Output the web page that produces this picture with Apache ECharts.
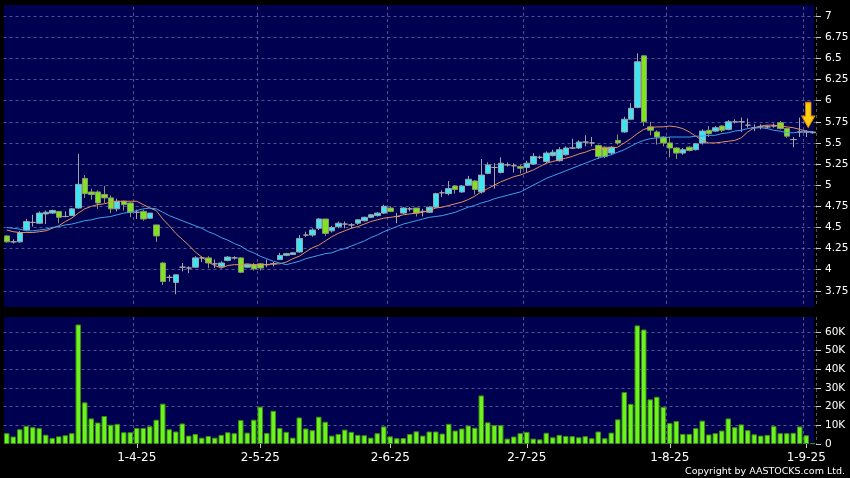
<!DOCTYPE html>
<html><head><meta charset="utf-8">
<script src="https://cdn.jsdelivr.net/npm/echarts@6/dist/echarts.min.js"></script>
<style>html,body{margin:0;padding:0;background:#000;}#c{width:850px;height:478px;}</style>
</head><body><div id="c"></div>
<script>
const dates = [
'4-3-25','5-3-25','6-3-25','7-3-25','10-3-25','11-3-25','12-3-25','13-3-25','14-3-25','17-3-25','18-3-25','19-3-25','20-3-25','21-3-25','24-3-25','25-3-25','26-3-25','27-3-25','28-3-25','31-3-25',
'1-4-25','2-4-25','3-4-25','7-4-25','8-4-25','9-4-25','10-4-25','11-4-25','14-4-25','15-4-25','16-4-25','17-4-25','22-4-25','23-4-25','24-4-25','25-4-25','28-4-25','29-4-25','30-4-25',
'2-5-25','6-5-25','7-5-25','8-5-25','9-5-25','12-5-25','13-5-25','14-5-25','15-5-25','16-5-25','19-5-25','20-5-25','21-5-25','22-5-25','23-5-25','26-5-25','27-5-25','28-5-25','29-5-25','30-5-25',
'2-6-25','3-6-25','4-6-25','5-6-25','6-6-25','9-6-25','10-6-25','11-6-25','12-6-25','13-6-25','16-6-25','17-6-25','18-6-25','19-6-25','20-6-25','23-6-25','24-6-25','25-6-25','26-6-25','27-6-25','30-6-25',
'2-7-25','3-7-25','4-7-25','7-7-25','8-7-25','9-7-25','10-7-25','11-7-25','14-7-25','15-7-25','16-7-25','17-7-25','18-7-25','21-7-25','22-7-25','23-7-25','24-7-25','25-7-25','28-7-25','29-7-25','30-7-25','31-7-25',
'1-8-25','4-8-25','5-8-25','6-8-25','7-8-25','8-8-25','11-8-25','12-8-25','13-8-25','14-8-25','15-8-25','18-8-25','19-8-25','20-8-25','21-8-25','22-8-25','25-8-25','26-8-25','27-8-25','28-8-25','29-8-25',
'1-9-25','2-9-25'];

const opens = [4.40,4.33,4.33,4.47,4.56,4.55,4.66,4.67,4.69,4.63,4.64,4.73,5.08,4.92,4.92,4.89,4.85,4.72,4.81,4.79,
4.68,4.69,4.61,4.53,4.08,3.91,3.85,4.03,4.02,4.03,4.14,4.14,4.07,4.04,4.11,4.14,4.14,4.03,4.06,4.07,
4.06,4.07,4.12,4.17,4.18,4.21,4.41,4.41,4.49,4.60,4.46,4.51,4.54,4.53,4.55,4.58,4.62,4.64,4.67,4.73,
4.63,4.67,4.72,4.73,4.69,4.68,4.74,4.91,4.90,4.99,4.92,5.00,5.05,4.92,5.14,5.21,5.15,5.24,5.23,5.22,
5.21,5.25,5.33,5.28,5.35,5.29,5.36,5.44,5.44,5.51,5.50,5.47,5.45,5.38,5.53,5.63,5.78,5.92,6.53,5.69,
5.63,5.57,5.50,5.44,5.38,5.45,5.42,5.50,5.65,5.64,5.70,5.66,5.75,5.75,5.71,5.68,5.69,5.69,5.70,5.74,
5.67,5.54,5.63,5.63,5.62];
const closes = [4.33,4.33,4.44,4.57,4.56,4.67,4.68,4.70,4.62,4.63,4.72,5.01,4.90,4.89,4.79,4.85,4.72,4.81,4.77,4.68,
4.68,4.60,4.67,4.40,3.86,3.91,3.94,4.03,4.02,4.14,4.14,4.08,4.07,4.08,4.15,4.14,3.97,4.06,4.01,4.02,
4.06,4.07,4.17,4.19,4.20,4.37,4.41,4.47,4.60,4.43,4.50,4.55,4.54,4.53,4.59,4.62,4.65,4.67,4.75,4.69,
4.63,4.73,4.72,4.67,4.69,4.74,4.90,4.91,4.96,4.95,4.99,5.07,4.95,5.12,5.24,5.21,5.26,5.24,5.23,5.20,
5.26,5.34,5.33,5.38,5.39,5.42,5.44,5.44,5.51,5.51,5.50,5.34,5.34,5.45,5.50,5.78,5.91,6.46,5.75,5.65,
5.57,5.50,5.44,5.38,5.42,5.41,5.49,5.64,5.61,5.68,5.65,5.75,5.75,5.75,5.71,5.68,5.69,5.69,5.70,5.67,
5.58,5.54,5.63,5.63,5.63];
const lows = [4.32,4.31,4.32,4.46,4.51,4.54,4.54,4.66,4.55,4.62,4.64,4.72,4.85,4.83,4.72,4.79,4.67,4.69,4.70,4.62,
4.60,4.58,4.60,4.33,3.82,3.86,3.71,3.98,3.96,4.02,4.09,4.02,4.02,4.02,4.10,4.12,3.96,4.02,3.99,3.99,
4.03,4.04,4.12,4.16,4.18,4.20,4.39,4.39,4.47,4.40,4.44,4.49,4.49,4.49,4.53,4.57,4.61,4.63,4.66,4.68,
4.55,4.66,4.69,4.63,4.63,4.67,4.73,4.86,4.88,4.90,4.91,5.00,4.89,4.90,5.13,4.96,5.14,5.22,5.15,5.14,
5.15,5.24,5.31,5.26,5.34,5.28,5.35,5.43,5.43,5.46,5.46,5.31,5.32,5.36,5.48,5.62,5.77,5.91,5.70,5.59,
5.48,5.46,5.33,5.31,5.36,5.40,5.41,5.48,5.57,5.63,5.63,5.65,5.73,5.63,5.68,5.64,5.66,5.67,5.68,5.66,
5.56,5.45,5.57,5.57,5.61];
const highs = [4.41,4.36,4.46,4.60,4.65,4.69,4.70,4.71,4.69,4.69,4.73,5.37,5.12,4.96,4.94,4.99,4.88,4.84,4.82,4.80,
4.71,4.71,4.67,4.53,4.09,3.94,3.94,4.08,4.04,4.16,4.16,4.16,4.12,4.10,4.16,4.16,4.15,4.07,4.08,4.08,
4.12,4.09,4.20,4.20,4.21,4.41,4.45,4.49,4.61,4.60,4.52,4.57,4.57,4.55,4.60,4.63,4.66,4.68,4.77,4.75,
4.67,4.74,4.74,4.73,4.72,4.75,4.91,4.94,5.05,5.00,5.00,5.11,5.06,5.31,5.27,5.26,5.33,5.27,5.26,5.24,
5.29,5.38,5.35,5.40,5.42,5.45,5.46,5.55,5.53,5.59,5.57,5.48,5.46,5.46,5.60,5.81,5.97,6.56,6.54,5.75,
5.65,5.58,5.57,5.45,5.44,5.46,5.50,5.66,5.70,5.70,5.71,5.77,5.78,5.80,5.79,5.72,5.72,5.71,5.73,5.76,
5.68,5.57,5.80,5.65,5.64];

const maShort = [4.47,4.45,4.44,4.44,4.44,4.45,4.46,4.49,4.52,4.57,4.61,4.67,4.72,4.75,4.77,4.78,4.80,4.81,4.81,4.81,
4.81,4.77,4.73,4.70,4.60,4.52,4.43,4.36,4.29,4.21,4.15,4.09,4.05,4.02,4.05,4.06,4.06,4.07,4.06,4.06,
4.06,4.07,4.07,4.09,4.13,4.16,4.21,4.26,4.29,4.34,4.39,4.43,4.46,4.49,4.51,4.54,4.57,4.59,4.61,4.62,
4.63,4.65,4.66,4.67,4.68,4.70,4.73,4.74,4.76,4.78,4.80,4.83,4.87,4.92,4.96,5.00,5.04,5.07,5.10,5.12,
5.15,5.18,5.22,5.26,5.28,5.30,5.32,5.34,5.37,5.39,5.42,5.43,5.43,5.44,5.45,5.50,5.55,5.61,5.66,5.68,
5.69,5.69,5.70,5.69,5.67,5.63,5.58,5.53,5.50,5.50,5.51,5.52,5.53,5.56,5.63,5.68,5.70,5.71,5.71,5.70,
5.69,5.68,5.66,5.64,5.63];
const maLong = [4.50,4.49,4.48,4.46,4.46,4.47,4.48,4.50,4.51,4.53,4.54,4.56,4.58,4.59,4.61,4.62,4.63,4.65,4.67,4.68,
4.70,4.72,4.73,4.72,4.68,4.64,4.61,4.58,4.55,4.52,4.49,4.45,4.42,4.38,4.35,4.31,4.28,4.23,4.20,4.16,
4.13,4.10,4.08,4.06,4.08,4.10,4.13,4.15,4.17,4.19,4.20,4.23,4.25,4.28,4.31,4.34,4.38,4.41,4.45,4.48,
4.51,4.54,4.56,4.58,4.60,4.62,4.63,4.64,4.66,4.68,4.71,4.74,4.76,4.79,4.81,4.84,4.86,4.88,4.90,4.92,
4.96,5.00,5.04,5.08,5.11,5.14,5.17,5.20,5.23,5.26,5.29,5.32,5.34,5.36,5.39,5.42,5.46,5.50,5.53,5.55,
5.56,5.56,5.57,5.57,5.57,5.57,5.58,5.58,5.59,5.59,5.61,5.62,5.64,5.65,5.67,5.68,5.68,5.67,5.65,5.64,
5.62,5.62,5.63,5.63,5.63];

// volume in thousands of shares
const volumes = [5.8,4.0,7.9,9.7,9.0,8.5,5.0,3.2,4.1,4.7,5.8,64,22.3,13.7,11.5,15,10.3,10.8,6.3,6.3,
8.6,8.6,9.5,13,21.6,7.9,6.7,11,4.5,5.4,3.4,4.3,3.4,4.9,6.3,5.8,12.8,6.1,13,20,
5.9,17.8,8.6,6.5,3.4,14.2,8.3,7.4,14.6,11.9,4.5,5.4,7.7,6.5,4.9,4.7,3.4,5.8,9.4,4.1,
3.1,3.2,5.4,6.8,4.5,6.7,6.7,5.6,10.8,7.2,8.3,9.9,8.7,26,11.6,10.1,10.1,2.9,4.0,5.8,
6.5,2.9,2.5,6.0,3.6,4.9,4.3,4.2,3.6,4.2,3.1,6.7,3.1,6.1,13.2,27.8,21.5,63.5,61.3,23.9,
25.3,19.9,11.2,12.3,5.4,5.4,8.5,12.5,5.1,5.8,7.2,13.7,9.0,10.5,7.4,5.2,4.5,4.9,9.6,5.8,
5.8,6.0,9.4,4.7,0.4];

const arrowIndex = 123;
const arrowValue = 5.83;

const UP = '#3fe4f2', DOWN = '#80e322', DOJI = '#a8a8a8';
const PANEL = '#000050';
const GRIDLINE = {color: 'rgba(150,150,200,0.55)', width: 1, type: [3, 3]};
const FONT = 'DejaVu Sans';

const monthOf = d => d.split('-')[1];
const isMonthStart = i => i > 0 && monthOf(dates[i]) !== monthOf(dates[i - 1]);

const candleData = dates.map((d, i) => {
  const v = [opens[i], closes[i], lows[i], highs[i]];
  return opens[i] === closes[i]
    ? {value: v, itemStyle: {color: DOJI, color0: DOJI, borderColor: DOJI, borderColor0: DOJI}}
    : v;
});

const chart = echarts.init(document.getElementById('c'), null, {renderer: 'canvas'});
chart.setOption({
  backgroundColor: '#000',
  animation: false,
  graphic: {elements: [
    {type: 'rect', shape: {x: 4, y: 5, width: 810, height: 302}, style: {fill: PANEL}, z: -10, silent: true},
    {type: 'rect', shape: {x: 4, y: 317, width: 810, height: 127}, style: {fill: PANEL}, z: -10, silent: true},
    {type: 'rect', shape: {x: 0, y: 307, width: 850, height: 10}, style: {fill: '#000'}, z: 50, silent: true},
    {type: 'rect', shape: {x: 0, y: -20, width: 850, height: 25}, style: {fill: '#000'}, z: 50, silent: true},
    {type: 'text', right: 5, bottom: 1, z: 60, silent: true,
     style: {text: 'Copyright by AASTOCKS.com Ltd.', fill: '#ffffff', font: '9.5px "DejaVu Sans"'}}
  ]},
  grid: [
    {left: 3.5, right: 34, top: -5, height: 317, outerBoundsMode: 'none'},
    {left: 3.5, right: 34, top: 317, height: 127, outerBoundsMode: 'none'}
  ],
  xAxis: [
    {type: 'category', gridIndex: 0, data: dates, boundaryGap: true,
     axisLine: {show: false}, axisTick: {show: false}, axisLabel: {show: false},
     splitLine: {show: true, interval: i => isMonthStart(i), lineStyle: GRIDLINE}},
    {type: 'category', gridIndex: 1, data: dates, boundaryGap: true,
     axisLine: {show: false},
     axisTick: {show: true, alignWithLabel: true, interval: i => isMonthStart(i), length: 4, lineStyle: {color: '#cccccc'}},
     axisLabel: {show: true, interval: i => isMonthStart(i), color: '#ffffff', fontSize: 12, fontFamily: FONT, margin: 8},
     splitLine: {show: true, interval: i => isMonthStart(i), lineStyle: GRIDLINE}}
  ],
  yAxis: [
    {type: 'value', gridIndex: 0, position: 'right', min: 3.5, max: 7.25, interval: 0.25, scale: false,
     axisLine: {show: false},
     axisTick: {show: true, length: 5, lineStyle: {color: '#cccccc'}},
     axisLabel: {color: '#ffffff', fontSize: 10.5, fontFamily: FONT, margin: 9, showMinLabel: false, showMaxLabel: false},
     splitLine: {show: true, lineStyle: GRIDLINE, showMinLine: false, showMaxLine: false}},
    {type: 'value', gridIndex: 1, position: 'right', min: 0, max: 68, interval: 10,
     axisLine: {show: false},
     axisTick: {show: true, length: 5, lineStyle: {color: '#cccccc'}},
     axisLabel: {color: '#ffffff', fontSize: 10.5, fontFamily: FONT, margin: 9, showMaxLabel: false,
                 formatter: v => v === 0 ? '0' : v + 'K'},
     splitLine: {show: true, lineStyle: GRIDLINE, showMinLine: false, showMaxLine: false}}
  ],
  series: [
    {type: 'candlestick', xAxisIndex: 0, yAxisIndex: 0, data: candleData, barWidth: 6, z: 2,
     itemStyle: {color: UP, color0: DOWN, borderColor: '#9aa6aa', borderColor0: '#889a6a', borderWidth: 1},
     markPoint: {
       silent: true,
       symbol: 'path://M4,0L10,0L10,13L14,13L7,24L0,13L4,13Z',
       symbolSize: [13, 25], symbolOffset: [2, 0],
       itemStyle: {color: '#ffcc10', borderColor: '#d88a00', borderWidth: 1},
       label: {show: false},
       data: [{coord: [dates[arrowIndex], arrowValue]}]
     }},
    {type: 'line', name: 'MA10', xAxisIndex: 0, yAxisIndex: 0, data: maShort, symbol: 'none', z: 3,
     lineStyle: {color: '#e8905c', width: 1}},
    {type: 'line', name: 'MA20', xAxisIndex: 0, yAxisIndex: 0, data: maLong, symbol: 'none', z: 3,
     lineStyle: {color: '#3fa2ea', width: 1}},
    {type: 'bar', xAxisIndex: 1, yAxisIndex: 1, data: volumes, barWidth: 5.5,
     itemStyle: {color: '#6cf21c', borderColor: '#3a8c12', borderWidth: 1}}
  ]
});
</script>
</body></html>
